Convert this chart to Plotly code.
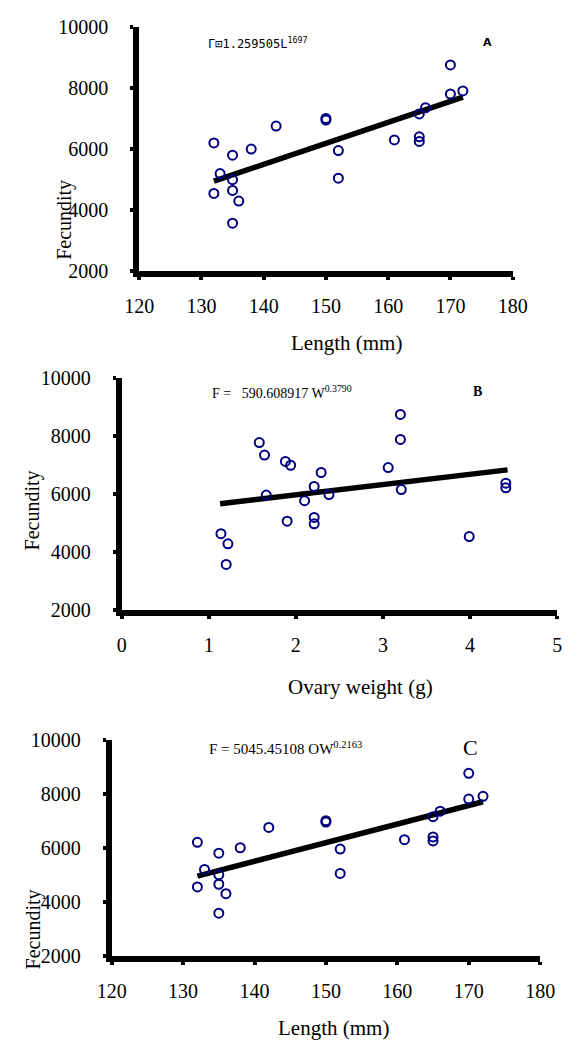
import plotly.graph_objects as go

# ---- data ----
length_mm = [132, 132, 133, 135, 135, 135, 136, 135, 138, 142, 150, 150,
             152, 152, 161, 165, 165, 165, 166, 170, 170, 172]
fecundity_len = [6200, 4550, 5200, 5800, 5000, 4650, 4300, 3580, 6000, 6750, 7000, 6950,
                 5950, 5050, 6300, 6400, 6250, 7150, 7350, 8750, 7800, 7900]

ovary_wt = [1.58, 1.64, 1.66, 1.88, 1.94, 1.90, 1.14, 1.22, 1.20, 2.21, 2.10,
            2.21, 2.21, 2.29, 2.38, 3.06, 3.20, 3.20, 3.21, 3.99, 4.41, 4.41]
fecundity_ow = [7780, 7350, 5970, 7130, 7000, 5070, 4640, 4290, 3580, 6270, 5780,
                5200, 4980, 6750, 5990, 6920, 8750, 7890, 6160, 4540, 6380, 6220]

fit_len_x = [132, 172]
fit_len_y = [4950, 7700]
fit_ow_x = [1.13, 4.43]
fit_ow_y = [5670, 6840]

x_ticks_len = [120, 130, 140, 150, 160, 170, 180]
x_ticks_ow = [0, 1, 2, 3, 4, 5]
y_ticks = [2000, 4000, 6000, 8000, 10000]

W, H = 576, 1059
def px(v):
    return v / W
def py(v):
    return 1 - v / H

SERIF = "Liberation Serif"
MARK = "#000080"

panels = [
    dict(n="", xd=(131, 525), yd=(266, 16), xr=[120, 180], xt=x_ticks_len,
         x=length_mm, y=fecundity_len, fx=fit_len_x, fy=fit_len_y),
    dict(n="2", xd=(112.5, 572), yd=(612, 375), xr=[0, 5], xt=x_ticks_ow,
         x=ovary_wt, y=fecundity_ow, fx=fit_ow_x, fy=fit_ow_y),
    dict(n="3", xd=(102, 554), yd=(965, 744), xr=[120, 180], xt=x_ticks_len,
         x=length_mm, y=fecundity_len, fx=fit_len_x, fy=fit_len_y),
]

fig = go.Figure()
layout = {}
for p in panels:
    xa, ya = "x" + p["n"], "y" + p["n"]
    fig.add_trace(go.Scatter(x=p["fx"], y=p["fy"], mode="lines",
                             line=dict(color="black", width=5.5),
                             xaxis=xa, yaxis=ya, showlegend=False, hoverinfo="skip"))
    fig.add_trace(go.Scatter(x=p["x"], y=p["y"], mode="markers",
                             marker=dict(symbol="circle-open", size=9, color=MARK,
                                         line=dict(width=2, color=MARK)),
                             xaxis=xa, yaxis=ya, showlegend=False))
    common = dict(showline=True, linecolor="black", linewidth=6, ticks="outside",
                  ticklen=3, tickwidth=4, tickcolor="black", showgrid=False,
                  zeroline=False, tickfont=dict(family=SERIF, size=20, color="black"))
    layout["xaxis" + p["n"]] = dict(domain=[px(p["xd"][0]), px(p["xd"][1])],
                                    range=p["xr"], tickvals=p["xt"],
                                    ticktext=[str(v) for v in p["xt"]],
                                    anchor=ya, ticklabelstandoff=9, **common)
    layout["yaxis" + p["n"]] = dict(domain=[py(p["yd"][0]), py(p["yd"][1])],
                                    range=[2000, 10000], tickvals=y_ticks,
                                    ticktext=[str(v) for v in y_ticks],
                                    anchor=xa, ticklabelstandoff=18, **common)

def ann(text, x, y, size, family=SERIF, xanchor="center", angle=0):
    return dict(text=text, x=px(x), y=py(y), xref="paper", yref="paper",
                xanchor=xanchor, yanchor="middle", showarrow=False, textangle=angle,
                font=dict(family=family, size=size, color="black"))

annotations = [
    ann("Fecundity", 52, 213, 20, angle=-90),
    ann("Fecundity", 18, 510, 20, angle=-90),
    ann("Fecundity", 20, 938, 20, angle=-90),
    ann("Length (mm)", 350, 339, 21),
    ann("Ovary weight (g)", 365, 690, 21),
    ann("Length (mm)", 336, 1039, 21),
    ann("Г⊡1.259505L<sup>1697</sup>", 202, 33, 12, family="DejaVu Sans Mono", xanchor="left"),
    ann("<b>A</b>", 498, 32, 11, family="DejaVu Sans"),
    ann("F =\u00a0\u00a0 590.608917 W<sup>0.3790</sup>", 206, 389, 14, xanchor="left"),
    ann("<b>B</b>", 488, 389, 14),
    ann("F = 5045.45108 OW<sup>0.2163</sup>", 203, 753, 15, xanchor="left"),
    ann("C", 480, 752, 22),
]

fig.update_layout(width=W, height=H, autosize=False,
                  margin=dict(l=0, r=0, t=0, b=0, pad=0),
                  paper_bgcolor="white", plot_bgcolor="white",
                  annotations=annotations, **layout)

fig.write_html("out.html")
